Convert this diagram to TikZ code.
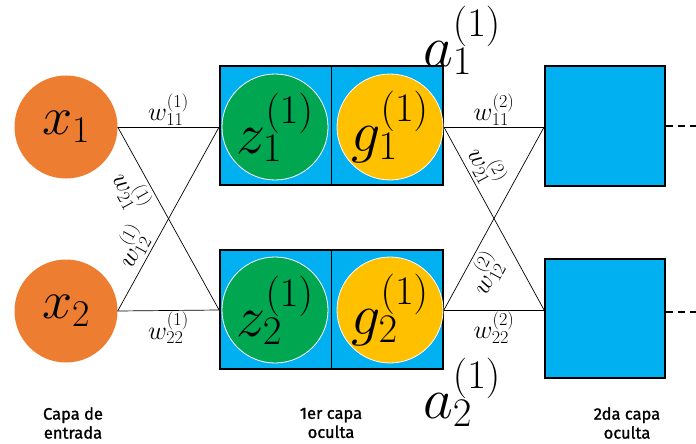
\RequirePackage{fix-cm}
\documentclass[tikz,border=0pt]{standalone}
\usepackage[no-math]{fontspec}
\newfontfamily\capafont[FakeBold=1.2]{Fira Sans}
\definecolor{naranja}{HTML}{ED7D31}
\definecolor{verde}{HTML}{00A650}
\definecolor{amarillo}{HTML}{FFC000}
\definecolor{azul}{HTML}{00B0F0}
\begin{document}
\begin{tikzpicture}[x=1pt,y=-1pt,
		entrada/.style={circle,fill=naranja,minimum size=103pt,inner sep=0pt,font=\fontsize{54}{58}\selectfont},
		celda/.style={circle,fill=#1,draw=white,line width=0.8pt,minimum size=106pt,inner sep=0pt,font=\fontsize{58}{62}\selectfont},
		capa/.style={draw=black,line width=1.8pt,fill=azul,inner sep=0pt},
		peso/.style={font=\fontsize{26}{28}\selectfont,inner sep=1.5pt},
		cruce/.style={peso,sloped,inner sep=3pt},
		salida/.style={font=\fontsize{58}{62}\selectfont},
		rotulo/.style={font=\capafont\fontsize{16.5}{19}\selectfont,align=center},
		arista/.style={line width=0.7pt}]
	\useasboundingbox (0,0) rectangle (696,444);
	% entradas
	\node[entrada] (x1) at (66,127) {$x_1$};
	\node[entrada] (x2) at (66,311) {$x_2$};
	% 1er capa oculta
	\foreach \i/\yc in {1/125.5,2/309.5}{
		\node[capa,minimum width=223pt,minimum height=119pt] (h\i) at (331.5,\yc) {};
		\draw[arista] (h\i.north) -- (h\i.south);
	}
	\node[celda=verde] (z1) at (275,127) {$z_1^{(1)}$};
	\node[celda=amarillo] (g1) at (390,127) {$g_1^{(1)}$};
	\node[celda=verde] (z2) at (275,310) {$z_2^{(1)}$};
	\node[celda=amarillo] (g2) at (390,310) {$g_2^{(1)}$};
	% 2da capa oculta
	\node[capa,minimum width=120pt,minimum height=120pt] (s1) at (605,126) {};
	\node[capa,minimum width=120pt,minimum height=119pt] (s2) at (605,318.5) {};
	\coordinate (f1) at (696,126);
	\coordinate (f2) at (696,312);
	% pesos capa 1
	\draw[arista] (x1.east) -- node[peso,above] {$w_{11}^{(1)}$} (h1.west |- z1);
	\draw[arista] (x1.east) -- node[cruce,pos=0.3,below] {$w_{21}^{(1)}$} (h2.west |- z2);
	\draw[arista] (x2.east) -- node[cruce,pos=0.3,above] {$w_{12}^{(1)}$} (h1.west |- z1);
	\draw[arista] (x2.east) -- node[peso,below] {$w_{22}^{(1)}$} (h2.west |- z2);
	% pesos capa 2
	\draw[arista] (h1.east |- g1) -- node[peso,above] {$w_{11}^{(2)}$} (s1.west |- g1);
	\draw[arista] (h1.east |- g1) -- node[cruce,pos=0.26,above] {$w_{21}^{(2)}$} (s2.west |- g2);
	\draw[arista] (h2.east |- g2) -- node[cruce,pos=0.25,below] {$w_{12}^{(2)}$} (s1.west |- g1);
	\draw[arista] (h2.east |- g2) -- node[peso,below] {$w_{22}^{(2)}$} (s2.west |- g2);
	% siguen
	\draw[line width=2.6pt,dash pattern=on 7pt off 5pt] (s1.east) -- (f1);
	\draw[line width=2.6pt,dash pattern=on 7pt off 5pt] (s2.east |- f2) -- (f2);
	% activaciones
	\node[salida] (a1) at (462,40) {$a_1^{(1)}$};
	\node[salida] (a2) at (462,392) {$a_2^{(1)}$};
	% rotulos
	\node[rotulo] (c0) at (73,423) {Capa de\\entrada};
	\node[rotulo] (c1) at (331,423) {1er capa\\oculta};
	\node[rotulo] (c2) at (627,423) {2da capa\\oculta};
\end{tikzpicture}
\end{document}
